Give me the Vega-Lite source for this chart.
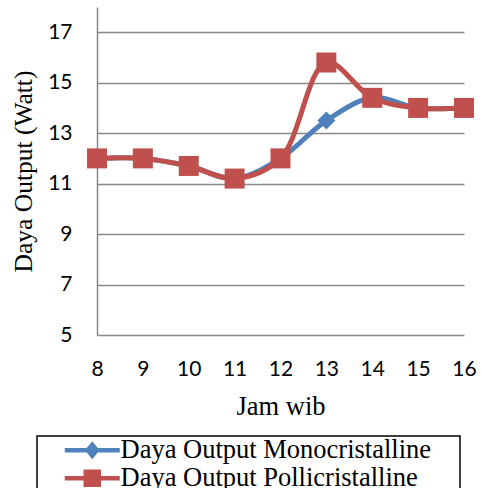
{
  "$schema": "https://vega.github.io/schema/vega-lite/v6.json",
  "width": 367,
  "height": 328,
  "autosize": {"type": "none"},
  "padding": {"left": 97, "top": 7, "right": 18, "bottom": 153},
  "background": "white",
  "data": {"values": [
    {"jam": 8, "daya": 12.0, "seri": "Daya Output Monocristalline"},
    {"jam": 9, "daya": 12.0, "seri": "Daya Output Monocristalline"},
    {"jam": 10, "daya": 11.7, "seri": "Daya Output Monocristalline"},
    {"jam": 11, "daya": 11.2, "seri": "Daya Output Monocristalline"},
    {"jam": 12, "daya": 12.0, "seri": "Daya Output Monocristalline"},
    {"jam": 13, "daya": 13.5, "seri": "Daya Output Monocristalline"},
    {"jam": 14, "daya": 14.4, "seri": "Daya Output Monocristalline"},
    {"jam": 15, "daya": 14.0, "seri": "Daya Output Monocristalline"},
    {"jam": 16, "daya": 14.0, "seri": "Daya Output Monocristalline"},
    {"jam": 8, "daya": 12.0, "seri": "Daya Output Pollicristalline"},
    {"jam": 9, "daya": 12.0, "seri": "Daya Output Pollicristalline"},
    {"jam": 10, "daya": 11.7, "seri": "Daya Output Pollicristalline"},
    {"jam": 11, "daya": 11.2, "seri": "Daya Output Pollicristalline"},
    {"jam": 12, "daya": 12.0, "seri": "Daya Output Pollicristalline"},
    {"jam": 13, "daya": 15.8, "seri": "Daya Output Pollicristalline"},
    {"jam": 14, "daya": 14.4, "seri": "Daya Output Pollicristalline"},
    {"jam": 15, "daya": 14.0, "seri": "Daya Output Pollicristalline"},
    {"jam": 16, "daya": 14.0, "seri": "Daya Output Pollicristalline"}
  ]},
  "encoding": {
    "x": {
      "field": "jam", "type": "quantitative",
      "scale": {"domain": [8, 16], "nice": false, "zero": false},
      "axis": {
        "title": "Jam wib", "values": [8, 9, 10, 11, 12, 13, 14, 15, 16],
        "grid": false, "domain": false, "ticks": false, "labelFlush": false,
        "labelFont": "Lato", "labelFontSize": 21, "labelColor": "black", "labelPadding": 23,
        "titleFont": "Liberation Serif", "titleFontSize": 26.5, "titleFontWeight": "normal", "titleColor": "black", "titlePadding": 14
      }
    },
    "y": {
      "field": "daya", "type": "quantitative",
      "scale": {"domain": [5, 18], "nice": false, "zero": false},
      "axis": {
        "title": "Daya Output (Watt)", "values": [5, 7, 9, 11, 13, 15, 17],
        "grid": true, "gridColor": "#888888", "gridWidth": 1.5,
        "domain": true, "domainColor": "#888888", "domainWidth": 1.5, "ticks": false,
        "labelFont": "Lato", "labelFontSize": 21, "labelColor": "black", "labelPadding": 25,
        "titleFont": "Liberation Serif", "titleFontSize": 25.5, "titleFontWeight": "normal", "titleColor": "black", "titlePadding": 11
      }
    }
  },
  "layer": [
    {
      "mark": {"type": "line", "interpolate": "catmull-rom", "strokeWidth": 5},
      "encoding": {
        "color": {"field": "seri", "type": "nominal", "scale": {"range": ["#4F81BD", "#C0504D"]}, "legend": null}
      }
    },
    {
      "mark": {"type": "point", "filled": true, "opacity": 1},
      "encoding": {
        "color": {"field": "seri", "type": "nominal", "legend": null},
        "shape": {"field": "seri", "type": "nominal", "scale": {"range": ["diamond", "square"]}, "legend": null},
        "size": {"field": "seri", "type": "nominal", "scale": {"range": [324, 400]}, "legend": null}
      }
    },
    {
      "mark": {"type": "point", "filled": true, "opacity": 0, "strokeWidth": 4.5},
      "encoding": {
        "fill": {"field": "seri", "type": "nominal", "scale": {"range": ["#4F81BD", "#C0504D"]},
          "legend": {"title": "\u00a0"}},
        "stroke": {"field": "seri", "type": "nominal", "scale": {"range": ["#4F81BD", "#C0504D"]},
          "legend": {"title": "\u00a0"}},
        "shape": {"field": "seri", "type": "nominal", "scale": {"range": [
          "M-2.75,0 H2.75 M0,-0.55 L0.45,0 L0,0.55 L-0.45,0 Z",
          "M-2.75,0 H2.75 M-0.65,-0.65 H0.65 V0.65 H-0.65 Z"
        ]}, "legend": {"title": "\u00a0"}}
      }
    }
  ],
  "resolve": {"scale": {"shape": "independent", "size": "independent", "fill": "independent", "stroke": "independent"}},
  "config": {
    "view": {"stroke": null},
    "legend": {
      "orient": "none", "legendX": -60, "legendY": 429,
      "titleOrient": "right", "titlePadding": 28, "titleFontSize": 10,
      "padding": 1,
      "strokeColor": "black", "strokeWidth": 1.5,
      "symbolSize": 400, "symbolStrokeWidth": 4.5, "symbolOpacity": 1, "symbolOffset": 41,
      "labelFont": "Liberation Serif", "labelFontSize": 26.5, "labelColor": "black",
      "labelOffset": 15, "rowPadding": -7, "labelLimit": 600
    }
  }
}
